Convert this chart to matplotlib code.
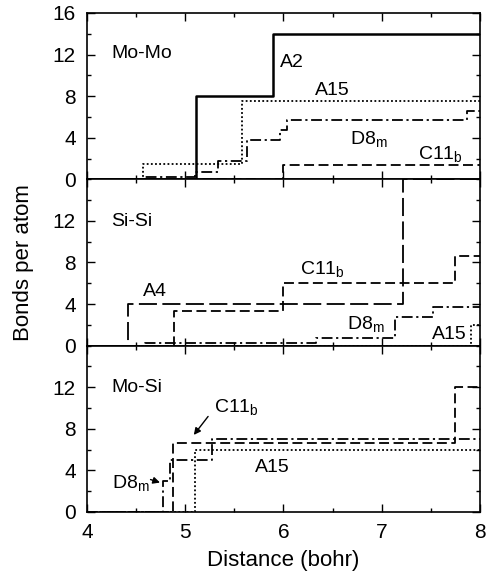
import numpy as np
import matplotlib
matplotlib.use("Agg")
import matplotlib.pyplot as plt
from matplotlib.ticker import MultipleLocator

plt.rcParams['font.family'] = ['Liberation Sans', 'DejaVu Sans']
plt.rcParams['mathtext.default'] = 'regular'

# Cumulative bonds per atom vs distance (step functions, values after each step)
# Mo-Mo
momo_a2_x = [4.0, 5.11, 5.89, 8.0]
momo_a2_y = [0, 8, 14, 14]
momo_a15_x = [4.0, 4.57, 5.58, 8.0]
momo_a15_y = [0, 1.5, 7.5, 7.5]
momo_d8m_x = [4.0, 4.57, 5.10, 5.33, 5.63, 5.96, 6.04, 7.87, 8.0]
momo_d8m_y = [0, 0.25, 0.75, 1.75, 3.75, 4.75, 5.75, 6.6, 6.6]
momo_c11b_x = [4.0, 6.0, 8.0]
momo_c11b_y = [0, 1.33, 1.33]

# Si-Si
sisi_a4_x = [4.0, 4.42, 7.22, 8.0]
sisi_a4_y = [0, 4, 16, 16]
sisi_c11b_x = [4.0, 4.89, 6.0, 7.75, 8.0]
sisi_c11b_y = [0, 3.33, 6, 8.67, 8.67]
sisi_d8m_x = [4.0, 4.59, 6.33, 7.13, 7.52, 8.0]
sisi_d8m_y = [0, 0.25, 0.75, 2.75, 3.75, 3.75]
sisi_a15_x = [4.0, 7.91, 8.0]
sisi_a15_y = [0, 2, 2]

# Mo-Si
mosi_d8m_x = [4.0, 4.77, 4.84, 5.27, 8.0]
mosi_d8m_y = [0, 3, 5, 7, 7]
mosi_c11b_x = [4.0, 4.88, 7.75, 8.0]
mosi_c11b_y = [0, 6.67, 12, 12]
mosi_a15_x = [4.0, 5.10, 8.0]
mosi_a15_y = [0, 6, 6]

solid = dict(color='black', lw=1.8, linestyle='-')
dotted = dict(color='black', lw=1.3, linestyle=(0, (1, 1.3)))
dashdot = dict(color='black', lw=1.3, linestyle=(0, (6, 2, 1.2, 2)))
dashed = dict(color='black', lw=1.3, linestyle=(0, (5.5, 2.5)))
longdash = dict(color='black', lw=1.3, linestyle=(0, (10, 3)))

fig = plt.figure(figsize=(4.87, 5.77), dpi=100)
gs = fig.add_gridspec(3, 1, left=0.1786, right=0.9856, top=0.9775, bottom=0.1127, hspace=0)
axes = [fig.add_subplot(gs[i]) for i in range(3)]

ax1, ax2, ax3 = axes
ax1.plot(momo_a2_x, momo_a2_y, drawstyle='steps-post', **solid)
ax1.plot(momo_a15_x, momo_a15_y, drawstyle='steps-post', **dotted)
ax1.plot(momo_d8m_x, momo_d8m_y, drawstyle='steps-post', **dashdot)
ax1.plot(momo_c11b_x, momo_c11b_y, drawstyle='steps-post', **dashed)

ax2.plot(sisi_a4_x, sisi_a4_y, drawstyle='steps-post', **longdash)
ax2.plot(sisi_c11b_x, sisi_c11b_y, drawstyle='steps-post', **dashed)
ax2.plot(sisi_d8m_x, sisi_d8m_y, drawstyle='steps-post', **dashdot)
ax2.plot(sisi_a15_x, sisi_a15_y, drawstyle='steps-post', **dotted)

ax3.plot(mosi_d8m_x, mosi_d8m_y, drawstyle='steps-post', **dashdot)
ax3.plot(mosi_c11b_x, mosi_c11b_y, drawstyle='steps-post', **dashed)
ax3.plot(mosi_a15_x, mosi_a15_y, drawstyle='steps-post', **dotted)

fs = 14
for i, ax in enumerate(axes):
    ax.set_xlim(4, 8)
    ax.set_ylim(0, 16)
    ax.xaxis.set_major_locator(MultipleLocator(1))
    ax.xaxis.set_minor_locator(MultipleLocator(0.5))
    ax.yaxis.set_major_locator(MultipleLocator(4))
    ax.yaxis.set_minor_locator(MultipleLocator(2))
    ax.tick_params(which='both', direction='in', top=True, right=True, labelsize=15, width=1)
    ax.tick_params(which='major', length=6, pad=8)
    ax.tick_params(which='minor', length=3)
    if i > 0:
        ax.set_yticks([0, 4, 8, 12])
    if i < 2:
        ax.tick_params(labelbottom=False)
    for s in ax.spines.values():
        s.set_linewidth(1.2)

ax1.text(4.25, 12.1, 'Mo-Mo', fontsize=fs, va='center')
ax1.text(5.96, 11.2, 'A2', fontsize=fs, va='center')
ax1.text(6.32, 8.5, 'A15', fontsize=fs, va='center')
ax1.text(6.68, 3.9, 'D8$_m$', fontsize=fs, va='center')
ax1.text(7.37, 2.4, 'C11$_b$', fontsize=fs, va='center')

ax2.text(4.25, 11.9, 'Si-Si', fontsize=fs, va='center')
ax2.text(6.17, 7.4, 'C11$_b$', fontsize=fs, va='center')
ax2.text(4.57, 5.2, 'A4', fontsize=fs, va='center')
ax2.text(6.65, 2.1, 'D8$_m$', fontsize=fs, va='center')
ax2.text(7.51, 1.05, 'A15', fontsize=fs, va='center')

ax3.text(4.25, 12.0, 'Mo-Si', fontsize=fs, va='center')
ax3.text(5.29, 10.1, 'C11$_b$', fontsize=fs, va='center')
ax3.text(4.25, 2.8, 'D8$_m$', fontsize=fs, va='center')
ax3.text(5.71, 4.26, 'A15', fontsize=fs, va='center')
ax3.annotate('', xy=(5.07, 7.2), xytext=(5.25, 9.4),
             arrowprops=dict(arrowstyle='-|>', color='black', lw=1, mutation_scale=10))
ax3.annotate('', xy=(4.77, 2.75), xytext=(4.62, 3.2),
             arrowprops=dict(arrowstyle='-|>', color='black', lw=1, mutation_scale=10))

ax3.set_xlabel('Distance (bohr)', fontsize=16, labelpad=6)
fig.text(0.049, (0.9775 + 0.1127) / 2, 'Bonds per atom', rotation=90,
         fontsize=16, va='center', ha='center')

fig.savefig('out.png', dpi=100)
